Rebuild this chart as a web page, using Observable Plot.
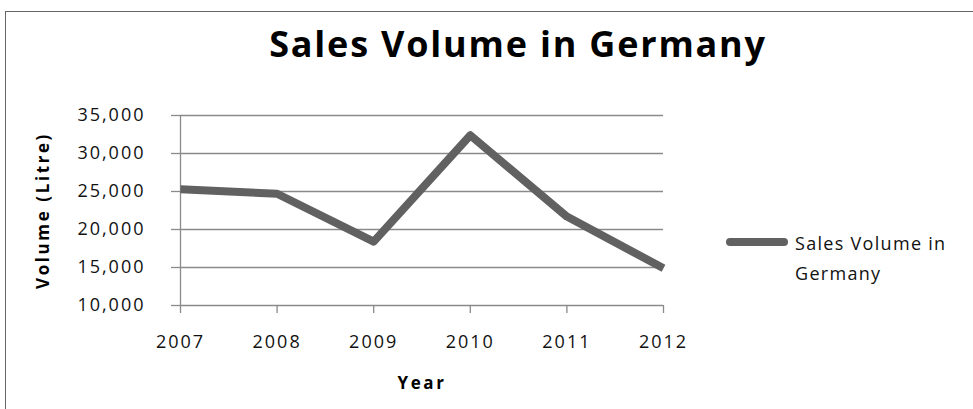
<!DOCTYPE html>
<html>
<head>
<meta charset="utf-8">
<script src="https://cdn.jsdelivr.net/npm/d3@7"></script>
<script src="https://cdn.jsdelivr.net/npm/@observablehq/plot@0.6"></script>
<style>
  html, body { margin: 0; padding: 0; background: #fff; overflow: hidden; }
  #wrap { position: relative; width: 973px; height: 409px; font-family: "Open Sans", sans-serif; }
  #frame { position: absolute; left: 5px; top: 11px; width: 1200px; height: 600px; border-left: 1px solid #666; border-top: 1px solid #666; box-sizing: border-box; }
  #title { position: absolute; left: 0; width: 1036px; top: 22px; text-align: center; font-weight: 700; font-size: 36px; line-height: 44px; color: #000; letter-spacing: 1.8px; }
  #legend { position: absolute; left: 726px; top: 228px; font-size: 18px; line-height: 30px; color: #111; letter-spacing: 1.3px; }
  #legend .sw { position: absolute; left: 0; top: 10px; width: 62px; height: 8px; border-radius: 4px; background: #616161; }
  #legend .tx { position: absolute; left: 69px; top: 0; white-space: nowrap; }
  #chart { position: absolute; left: 0; top: 0; }
</style>
</head>
<body>
<div id="wrap">
  <div id="frame"></div>
  <div id="chart"></div>
  <div id="title">Sales Volume in Germany</div>
  <div id="legend"><div class="sw"></div><div class="tx">Sales Volume in<br>Germany</div></div>
</div>
<script>
const years = [2007, 2008, 2009, 2010, 2011, 2012];
const volumes = [25300, 24700, 18400, 32400, 21700, 14900];
const yTicks = [10000, 15000, 20000, 25000, 30000, 35000];
const seriesName = "Sales Volume in Germany";

const data = years.map((y, i) => ({year: y, volume: volumes[i]}));
const fmt = d3.format(",");

const chart = Plot.plot({
  width: 973,
  height: 409,
  marginLeft: 180,
  marginRight: 310,
  marginTop: 115,
  marginBottom: 104,
  style: {fontFamily: "'Open Sans', sans-serif", fontSize: "18px", color: "#111", letterSpacing: "2px", background: "transparent"},
  x: {domain: [years[0], years[years.length - 1]]},
  y: {domain: [yTicks[0], yTicks[yTicks.length - 1]]},
  marks: [
    Plot.gridY(yTicks, {stroke: "#8a8a8a", strokeOpacity: 1, strokeWidth: 1.3}),
    Plot.ruleX([years[0]], {stroke: "#8a8a8a", strokeWidth: 1.3}),
    Plot.axisY(yTicks, {
      tickFormat: fmt, tickSize: 9, tickPadding: 26, stroke: "#8a8a8a", strokeWidth: 1.3,
      label: "Volume (Litre)", labelAnchor: "center", labelOffset: 144, labelArrow: "none"
    }),
    Plot.axisX(years, {
      tickFormat: d => String(d), tickSize: 8, tickPadding: 22, stroke: "#8a8a8a", strokeWidth: 1.3,
      label: "Year", labelAnchor: "center", labelOffset: 83, labelArrow: "none"
    }),
    Plot.line(data, {x: "year", y: "volume", stroke: "#616161", strokeWidth: 8, strokeLinejoin: "round", strokeLinecap: "butt"})
  ]
});
document.getElementById("chart").appendChild(chart);
// bold axis labels
chart.querySelectorAll("g[aria-label='y-axis label'] text, g[aria-label='x-axis label'] text").forEach(t => {
  t.setAttribute("font-weight", "bold");
  t.setAttribute("font-size", "17px");
  t.setAttribute("letter-spacing", "2.6px");
  t.setAttribute("fill", "#000");
});
</script>
</body>
</html>
